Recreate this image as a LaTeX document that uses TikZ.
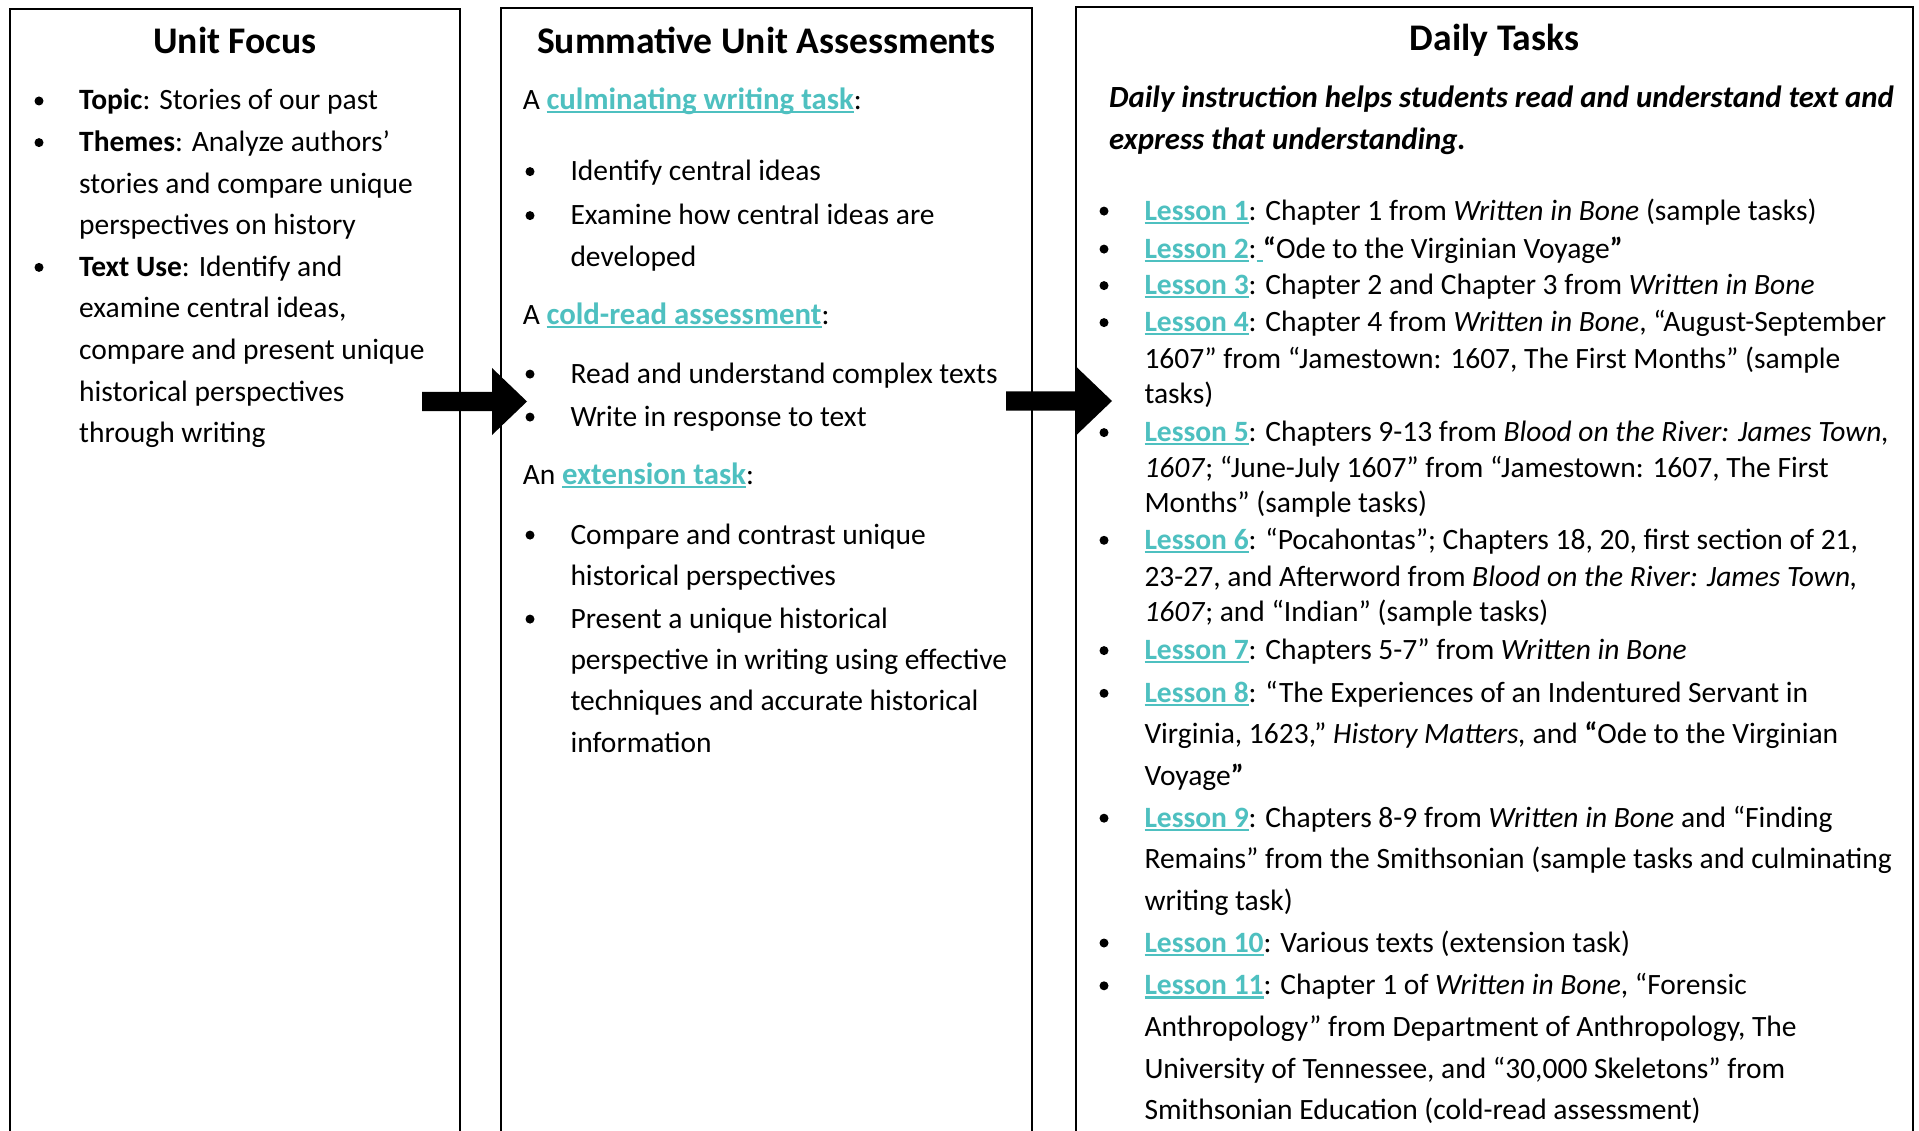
\documentclass[tikz,border=0pt]{standalone}
\usepackage{fontspec}
\setmainfont{Carlito}
\usetikzlibrary{calc}
\definecolor{linkc}{RGB}{78,192,192}

% hyperlink-style text: bold teal with a teal underline
\newcommand\lnk[1]{{\bfseries\color{linkc}\setbox0\hbox{#1}\rlap{\rule[-3.8pt]{\wd0}{2.3pt}}\box0}}
% the same, set slightly larger
\newcommand\lnkbig[1]{{\fontsize{30.8}{35}\selectfont\lnk{#1}}}
% an underlined space in link colour
\newcommand\ulspace{{\color{linkc}\rule[-3.8pt]{\fontdimen2\font}{2.3pt}}}

% one line of text at a baseline position
\newcommand\tline[4]{\node[txt] (#1) at (#2,#3) {#4};}
% a bullet mark centred at a position
\newcommand\dotmark[3]{\node[dotm] (#1) at (#2,#3) {};}
% a fat block arrow from one coordinate to another
\newcommand\fatarrow[2]{%
  \fill ($(#1)+(0,-9.7)$) -- ($(#2)+(-35,-9.7)$) -- ($(#2)+(-35,-33.5)$) -- (#2)
        -- ($(#2)+(-35,33.5)$) -- ($(#2)+(-35,9.7)$) -- ($(#1)+(0,9.7)$) -- cycle;}

\tikzset{
  panel/.style={draw=black, line width=2.4pt},
  txt/.style={anchor=base west, inner sep=0pt, font=\fontsize{29.5}{35}\selectfont},
  lead/.style={anchor=base west, inner sep=0pt, font=\fontsize{30.8}{37}\selectfont\bfseries\itshape},
  hd/.style={anchor=base, inner sep=0pt, font=\fontsize{37.6}{44}\selectfont\bfseries},
  dotm/.style={circle, fill=black, inner sep=0pt, minimum size=9pt},
}

\begin{document}
\begin{tikzpicture}[x=1pt, y=-1pt]
\path[use as bounding box] (0,0) rectangle (1919,1131);
\clip (0,0) rectangle (1919,1131);
\fill[white] (0,0) rectangle (1919,1131);

% three panels, running off the bottom edge
\draw[panel] (10,9) rectangle (460,1160);
\draw[panel] (501,8) rectangle (1032,1160);
\draw[panel] (1076,7) rectangle (1913,1160);

% block arrows between the panels
\coordinate (a1from) at (422,401.5);
\coordinate (a1to)   at (527,401.5);
\coordinate (a2from) at (1006,401);
\coordinate (a2to)   at (1112,401);
\fatarrow{a1from}{a1to}
\fatarrow{a2from}{a2to}

% panel headings
\node[hd] (h1) at (235,54) {Unit Focus};
\node[hd] (h2) at (766.5,54) {Summative Unit Assessments};
\node[hd] (h3) at (1494.5,51) {Daily Tasks};

\begin{scope}[yshift=-0.6pt]
% ---------- Unit Focus ----------
\def\bx{39}\def\tx{79}
\dotmark{f1b}{\bx}{100.4}
\tline{f1}{\tx}{109.4}{\textbf{Topic}: Stories of our past}
\dotmark{f2b}{\bx}{142}
\tline{f2}{\tx}{151}{\textbf{Themes}: Analyze authors’}
\tline{f3}{\tx}{192.6}{stories and compare unique}
\tline{f4}{\tx}{234.2}{perspectives on history}
\dotmark{f5b}{\bx}{266.8}
\tline{f5}{\tx}{275.8}{\textbf{Text Use}: Identify and}
\tline{f6}{\tx}{317.4}{examine central ideas,}
\tline{f7}{\tx}{359}{compare and present unique}
\tline{f8}{\tx}{400.6}{historical perspectives}
\tline{f9}{\tx}{442.2}{through writing}

% ---------- Summative Unit Assessments ----------
\def\ax{522.6}\def\sbx{530}\def\stx{570.3}
\tline{s1}{\ax}{109}{A \lnkbig{culminating writing task}:}
\dotmark{s2b}{\sbx}{171}
\tline{s2}{\stx}{180}{Identify central ideas}
\dotmark{s3b}{\sbx}{215}
\tline{s3}{\stx}{224}{Examine how central ideas are}
\tline{s4}{\stx}{266}{developed}
\tline{s5}{\ax}{323.5}{A \lnkbig{cold-read assessment}:}
\dotmark{s6b}{\sbx}{373.5}
\tline{s6}{\stx}{382.5}{Read and understand complex texts}
\dotmark{s7b}{\sbx}{416.5}
\tline{s7}{\stx}{425.5}{Write in response to text}
\tline{s8}{\ax}{484}{An \lnkbig{extension task}:}
\dotmark{s9b}{\sbx}{534.5}
\tline{s9}{\stx}{543.5}{Compare and contrast unique}
\tline{s10}{\stx}{584.5}{historical perspectives}
\dotmark{s11b}{\sbx}{618.5}
\tline{s11}{\stx}{627.5}{Present a unique historical}
\tline{s12}{\stx}{668.5}{perspective in writing using effective}
\tline{s13}{\stx}{709.5}{techniques and accurate historical}
\tline{s14}{\stx}{751.5}{information}

% ---------- Daily Tasks ----------
\def\ix{1109}\def\dbx{1104}\def\dtx{1144.3}
\node[lead] (d0a) at (\ix,107) {Daily instruction helps students read and understand text and};
\node[lead] (d0b) at (\ix,148.5) {express that understanding.};
\dotmark{d1b}{\dbx}{210.5}
\tline{d1}{\dtx}{219.5}{\lnk{Lesson 1}: Chapter 1 from \textit{Written in Bone} (sample tasks)}
\dotmark{d2b}{\dbx}{248.5}
\tline{d2}{\dtx}{257.5}{\lnk{Lesson 2}:\ulspace\textbf{“}Ode to the Virginian Voyage\textbf{”}}
\dotmark{d3b}{\dbx}{285}
\tline{d3}{\dtx}{294}{\lnk{Lesson 3}: Chapter 2 and Chapter 3 from \textit{Written in Bone}}
\dotmark{d4b}{\dbx}{322}
\tline{d4}{\dtx}{331}{\lnk{Lesson 4}: Chapter 4 from \textit{Written in Bone}, “August-September}
\tline{d4c}{\dtx}{367.5}{1607” from “Jamestown: 1607, The First Months” (sample}
\tline{d4d}{\dtx}{403}{tasks)}
\dotmark{d5b}{\dbx}{432}
\tline{d5}{\dtx}{441}{\lnk{Lesson 5}: Chapters 9-13 from \textit{Blood on the River: James Town,}}
\tline{d5c}{\dtx}{476.5}{\textit{1607}; “June-July 1607” from “Jamestown: 1607, The First}
\tline{d5d}{\dtx}{512}{Months” (sample tasks)}
\dotmark{d6b}{\dbx}{539.7}
\tline{d6}{\dtx}{548.7}{\lnk{Lesson 6}: “Pocahontas”; Chapters 18, 20, first section of 21,}
\tline{d6c}{\dtx}{585.5}{23-27, and Afterword from \textit{Blood on the River: James Town,}}
\tline{d6d}{\dtx}{621}{\textit{1607}; and “Indian” (sample tasks)}
\dotmark{d7b}{\dbx}{650}
\tline{d7}{\dtx}{659}{\lnk{Lesson 7}: Chapters 5-7” from \textit{Written in Bone}}
\dotmark{d8b}{\dbx}{692.7}
\tline{d8}{\dtx}{701.7}{\lnk{Lesson 8}: “The Experiences of an Indentured Servant in}
\tline{d8c}{\dtx}{743.3}{Virginia, 1623,” \textit{History Matters,} and \textbf{“}Ode to the Virginian}
\tline{d8d}{\dtx}{785}{Voyage\textbf{”}}
\dotmark{d9b}{\dbx}{817.6}
\tline{d9}{\dtx}{826.6}{\lnk{Lesson 9}: Chapters 8-9 from \textit{Written in Bone} and “Finding}
\tline{d9c}{\dtx}{868.2}{Remains” from the Smithsonian (sample tasks and culminating}
\tline{d9d}{\dtx}{909.8}{writing task)}
\dotmark{d10b}{\dbx}{942.4}
\tline{d10}{\dtx}{951.4}{\lnk{Lesson 10}: Various texts (extension task)}
\dotmark{d11b}{\dbx}{985.2}
\tline{d11}{\dtx}{994.2}{\lnk{Lesson 11}: Chapter 1 of \textit{Written in Bone}, “Forensic}
\tline{d11c}{\dtx}{1035.8}{Anthropology” from Department of Anthropology, The}
\tline{d11d}{\dtx}{1077.5}{University of Tennessee, and “30,000 Skeletons” from}
\tline{d11e}{\dtx}{1119}{Smithsonian Education (cold-read assessment)}
\end{scope}
\end{tikzpicture}
\end{document}
